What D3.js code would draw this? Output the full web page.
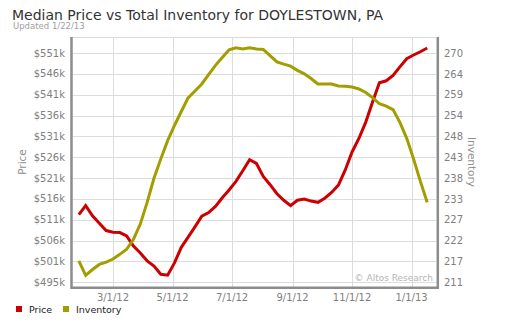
<!DOCTYPE html>
<html>
<head>
<meta charset="utf-8">
<script src="https://cdn.jsdelivr.net/npm/d3@7"></script>
<style>
  body { margin: 0; background: #fff; }
  svg { display: block; font-family: "DejaVu Sans", Verdana, sans-serif; }
</style>
</head>
<body>
<div id="chart"></div>
<script>
// weekly series, first week 1/26/12
var startDate = new Date(2012, 0, 26);

var price = [512.0, 514.2, 511.7, 509.9, 508.1, 507.7, 507.6, 506.8, 504.3, 502.6,
             500.7, 499.4, 497.4, 497.2, 500.2, 504.0, 506.5, 509.0, 511.6, 512.5,
             514.0, 516.1, 518.0, 520.1, 522.7, 525.4, 524.5, 521.3, 519.3, 517.1,
             515.5, 514.2, 515.5, 515.8, 515.3, 515.0, 516.0, 517.4, 519.2, 522.9,
             527.3, 530.6, 534.6, 539.5, 544.2, 544.7, 546.0, 548.1, 550.1, 551.0,
             551.8, 552.7];

var inventory = [216.5, 212.8, 214.3, 215.6, 216.2, 217.0, 218.2, 219.5, 222.1, 226.0,
                 231.6, 237.8, 242.8, 247.5, 251.4, 255.0, 258.5, 260.3, 262.1, 264.5,
                 266.9, 268.9, 270.9, 271.4, 271.1, 271.4, 271.1, 271.0, 269.4, 267.8,
                 267.2, 266.7, 265.6, 264.7, 263.5, 262.1, 262.1, 262.1, 261.6, 261.5,
                 261.3, 260.8, 259.9, 258.6, 257.0, 256.4, 255.5, 252.2, 248.1, 242.8,
                 237.0, 231.6];

var priceLabels = ["$495k", "$501k", "$506k", "$511k", "$516k", "$521k",
                   "$526k", "$531k", "$536k", "$541k", "$546k", "$551k"];
var invLabels = ["211", "217", "222", "227", "233", "238",
                 "243", "248", "254", "259", "264", "270"];
var dateTicks = ["3/1/12", "5/1/12", "7/1/12", "9/1/12", "11/1/12", "1/1/13"];

var dates = price.map(function(d, i) { return d3.timeDay.offset(startDate, i * 7); });

var W = 510, H = 323;
var plotL = 72, plotR = 436, plotT = 37, plotB = 287;

var svg = d3.select("#chart").append("svg").attr("width", W).attr("height", H);

var x = d3.scaleTime()
  .domain([new Date(2012, 0, 19), new Date(2013, 0, 26)])
  .range([plotL, plotR]);

// gridline 0 sits 4.7px above the bottom, gridline 11 16.3px below the top
var yP = d3.scaleLinear().domain([494.3, 555.4]).range([plotB, plotT]);
var yI = d3.scaleLinear().domain([209.79, 274.2]).range([plotB, plotT]);

var pTicks = priceLabels.map(function(d, i) { return 495.45 + i * 56 / 11; });
var iTicks = invLabels.map(function(d, i) { return 211 + i * 59 / 11; });
var xTicks = dateTicks.map(function(s) { return d3.timeParse("%-m/%-d/%y")(s); });

// grid
var grid = svg.append("g").attr("stroke", "#dcdcdc").attr("stroke-width", 1);
grid.selectAll("line.h").data(pTicks).enter().append("line")
  .attr("x1", plotL).attr("x2", plotR)
  .attr("y1", function(d) { return Math.round(yP(d)) + 0.5; })
  .attr("y2", function(d) { return Math.round(yP(d)) + 0.5; });
grid.selectAll("line.v").data(xTicks).enter().append("line")
  .attr("y1", plotT).attr("y2", plotB)
  .attr("x1", function(d) { return Math.round(x(d)) + 0.5; })
  .attr("x2", function(d) { return Math.round(x(d)) + 0.5; });
grid.append("line").attr("x1", plotL).attr("x2", plotR).attr("y1", plotT + 0.5).attr("y2", plotT + 0.5);

// frame
var frame = svg.append("g").attr("stroke", "#8c8c8c").attr("stroke-width", 2.5).attr("fill", "none");
frame.append("path").attr("d", "M" + (plotL - 0.5) + "," + plotT + "V" + (plotB + 0.8) + "H" + (plotR + 1.8) + "V" + plotT);

svg.append("text").attr("x", 433).attr("y", 281).attr("text-anchor", "end")
  .attr("font-size", 9).attr("fill", "#b4b4b4").text("© Altos Research");

// lines
var linePrice = d3.line().x(function(d, i) { return x(dates[i]); }).y(function(d) { return yP(d); });
var lineInv = d3.line().x(function(d, i) { return x(dates[i]); }).y(function(d) { return yI(d); });

svg.append("path").datum(price).attr("d", linePrice)
  .attr("fill", "none").attr("stroke", "#cc0000").attr("stroke-width", 3);
svg.append("path").datum(inventory).attr("d", lineInv)
  .attr("fill", "none").attr("stroke", "#a29d00").attr("stroke-width", 3);

// axes labels
svg.append("g").selectAll("text").data(pTicks).enter().append("text")
  .attr("x", 65).attr("y", function(d) { return yP(d) + 3.5; })
  .attr("text-anchor", "end").attr("font-size", 10).attr("fill", "#808080")
  .text(function(d, i) { return priceLabels[i]; });

svg.append("g").selectAll("text").data(iTicks).enter().append("text")
  .attr("x", 444).attr("y", function(d) { return yI(d) + 3.5; })
  .attr("font-size", 10).attr("fill", "#808080")
  .text(function(d, i) { return invLabels[i]; });

svg.append("g").selectAll("text").data(xTicks).enter().append("text")
  .attr("x", function(d) { return x(d); }).attr("y", 301)
  .attr("text-anchor", "middle").attr("font-size", 10).attr("fill", "#808080")
  .text(function(d, i) { return dateTicks[i]; });

svg.append("text").attr("transform", "translate(26," + (plotT + plotB) / 2 + ") rotate(-90)")
  .attr("text-anchor", "middle").attr("font-size", 10.5).attr("fill", "#909090").text("Price");
svg.append("text").attr("transform", "translate(468," + (plotT + plotB) / 2 + ") rotate(90)")
  .attr("text-anchor", "middle").attr("font-size", 10.5).attr("fill", "#909090").text("Inventory");

// title
svg.append("text").attr("x", 12).attr("y", 19.5).attr("font-size", 14).attr("fill", "#333")
  .text("Median Price vs Total Inventory for DOYLESTOWN, PA");
svg.append("text").attr("x", 13).attr("y", 29).attr("font-size", 8.5).attr("fill", "#a0a0a0")
  .text("Updated 1/22/13");

// legend
var legend = [{ name: "Price", color: "#cc0000", x: 16 }, { name: "Inventory", color: "#a29d00", x: 63 }];
var lg = svg.append("g").selectAll("g").data(legend).enter().append("g");
lg.append("rect").attr("x", function(d) { return d.x; }).attr("y", 306).attr("width", 6).attr("height", 6)
  .attr("fill", function(d) { return d.color; });
lg.append("text").attr("x", function(d) { return d.x + 13; }).attr("y", 313)
  .attr("font-size", 9.5).attr("fill", "#222").text(function(d) { return d.name; });
</script>
</body>
</html>
